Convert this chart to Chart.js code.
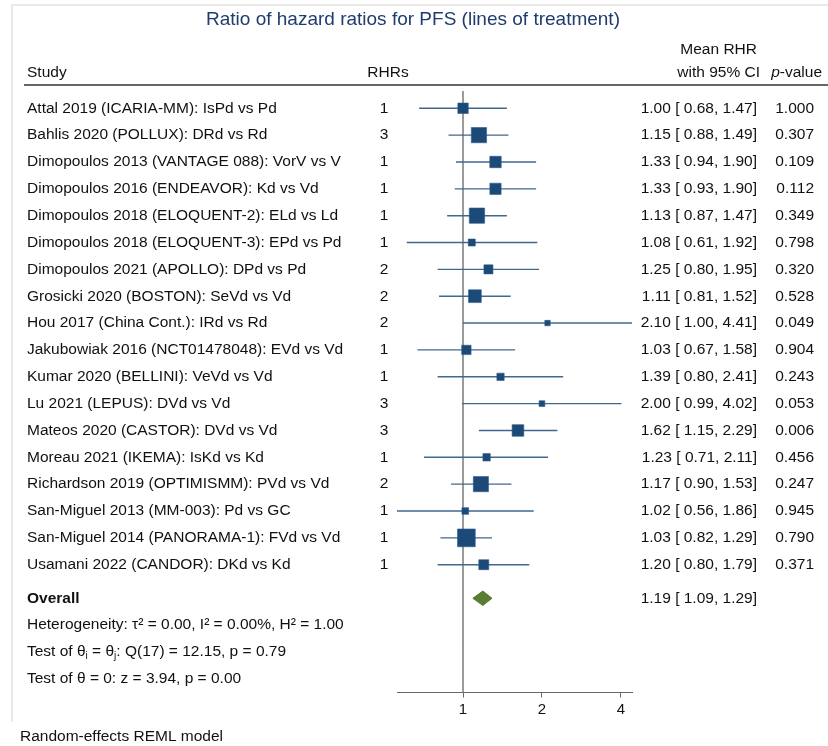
<!DOCTYPE html>
<html>
<head>
<meta charset="utf-8">
<script src="https://cdn.jsdelivr.net/npm/chart.js@4.4.1/dist/chart.umd.min.js"></script>
<style>
  html, body { margin: 0; padding: 0; background: #fff; }
  canvas { display: block; }
</style>
</head>
<body>
<canvas id="forestChart" width="828" height="746"></canvas>
<script>
const studies = [
  'Attal 2019 (ICARIA-MM): IsPd vs Pd',
  'Bahlis 2020 (POLLUX): DRd vs Rd',
  'Dimopoulos 2013 (VANTAGE 088): VorV vs V',
  'Dimopoulos 2016 (ENDEAVOR): Kd vs Vd',
  'Dimopoulos 2018 (ELOQUENT-2): ELd vs Ld',
  'Dimopoulos 2018 (ELOQUENT-3): EPd vs Pd',
  'Dimopoulos 2021 (APOLLO): DPd vs Pd',
  'Grosicki 2020 (BOSTON): SeVd vs Vd',
  'Hou 2017 (China Cont.): IRd vs Rd',
  'Jakubowiak 2016 (NCT01478048): EVd vs Vd',
  'Kumar 2020 (BELLINI): VeVd vs Vd',
  'Lu 2021 (LEPUS): DVd vs Vd',
  'Mateos 2020 (CASTOR): DVd vs Vd',
  'Moreau 2021 (IKEMA): IsKd vs Kd',
  'Richardson 2019 (OPTIMISMM): PVd vs Vd',
  'San-Miguel 2013 (MM-003): Pd vs GC',
  'San-Miguel 2014 (PANORAMA-1): FVd vs Vd',
  'Usamani 2022 (CANDOR): DKd vs Kd'
];
const rhrCounts = [1, 3, 1, 1, 1, 1, 2, 2, 2, 1, 1, 3, 3, 1, 2, 1, 1, 1];
const meanRHR  = [1.00, 1.15, 1.33, 1.33, 1.13, 1.08, 1.25, 1.11, 2.10, 1.03, 1.39, 2.00, 1.62, 1.23, 1.17, 1.02, 1.03, 1.20];
const lowerCI  = [0.68, 0.88, 0.94, 0.93, 0.87, 0.61, 0.80, 0.81, 1.00, 0.67, 0.80, 0.99, 1.15, 0.71, 0.90, 0.56, 0.82, 0.80];
const upperCI  = [1.47, 1.49, 1.90, 1.90, 1.47, 1.92, 1.95, 1.52, 4.41, 1.58, 2.41, 4.02, 2.29, 2.11, 1.53, 1.86, 1.29, 1.79];
const pValues  = ['1.000', '0.307', '0.109', '0.112', '0.349', '0.798', '0.320', '0.528', '0.049',
                  '0.904', '0.243', '0.053', '0.006', '0.456', '0.247', '0.945', '0.790', '0.371'];
const overall = [1.19, 1.09, 1.29]; // mean, lower, upper
const axisTicks = [1, 2, 4];

const FONT = "'Liberation Sans', Arial, Helvetica, sans-serif";
const bodyFont = '15.5px ' + FONT;
const BOX = '#1c4a78';
const LINE = '#41698f';

// inverse-variance weight from the CI, box side ~ sqrt(weight)
const boxSide = i => {
  const se = (Math.log(upperCI[i]) - Math.log(lowerCI[i])) / 3.92;
  return 2.05 / se;
};

const OVERALL_ROW = studies.length + 0.25;
const yMin = -0.644, yMax = 21.76;

const datasets = [];
datasets.push({
  type: 'scatter',
  data: meanRHR.map((m, i) => ({ x: m, y: i })),
  pointStyle: 'rect',
  pointRadius: meanRHR.map((m, i) => boxSide(i) / 1.4142),
  backgroundColor: BOX,
  borderColor: '#2d5a86',
  borderWidth: 0.6,
  order: 1
});
datasets.push({
  type: 'line',
  data: [
    { x: overall[1], y: OVERALL_ROW },
    { x: overall[0], y: OVERALL_ROW - 0.27 },
    { x: overall[2], y: OVERALL_ROW },
    { x: overall[0], y: OVERALL_ROW + 0.27 },
    { x: overall[1], y: OVERALL_ROW }
  ],
  borderColor: '#5b7c31',
  backgroundColor: '#5b7c31',
  borderWidth: 1,
  fill: 'shape',
  pointRadius: 0,
  tension: 0,
  order: 1
});
studies.forEach((s, i) => {
  datasets.push({
    type: 'line',
    data: [{ x: lowerCI[i], y: i }, { x: upperCI[i], y: i }],
    borderColor: LINE,
    borderWidth: 1.4,
    pointRadius: 0,
    order: 2
  });
});
datasets.push({
  type: 'line',
  data: [{ x: 1, y: yMin }, { x: 1, y: yMax }],
  borderColor: '#8c8c8c',
  borderWidth: 1,
  pointRadius: 0,
  order: 3
});

function drawRich(ctx, parts, x, y) {
  parts.forEach(([txt, kind]) => {
    ctx.font = kind === 'sub' ? '10px ' + FONT : bodyFont;
    ctx.fillText(txt, x, kind === 'sub' ? y + 4 : y);
    x += ctx.measureText(txt).width;
  });
}

const textPlugin = {
  id: 'forestText',
  afterDraw(chart) {
    const ctx = chart.ctx;
    const ys = chart.scales.y;
    const col = { study: 27, rhr: 384, ciRight: 757, pRight: 814 };
    ctx.save();

    // frame
    ctx.strokeStyle = '#e2e2e2';
    ctx.lineWidth = 1.5;
    ctx.beginPath();
    ctx.moveTo(12, 722); ctx.lineTo(12, 5); ctx.lineTo(828, 5);
    ctx.stroke();

    ctx.textBaseline = 'middle';
    ctx.fillStyle = '#1f3c6e';
    ctx.font = '19px ' + FONT;
    ctx.textAlign = 'center';
    ctx.fillText('Ratio of hazard ratios for PFS (lines of treatment)', 413, 20);

    ctx.fillStyle = '#111';
    ctx.font = bodyFont;
    ctx.textAlign = 'left';
    ctx.fillText('Study', col.study, 73);
    ctx.textAlign = 'center';
    ctx.fillText('RHRs', col.rhr + 4, 73);
    const wCI = ctx.measureText('with 95% CI').width;
    ctx.fillText('Mean RHR', col.ciRight + 3 - wCI / 2, 50);
    ctx.textAlign = 'right';
    ctx.fillText('with 95% CI', col.ciRight + 3, 73);
    const wVal = ctx.measureText('-value').width;
    ctx.fillText('-value', col.pRight + 8, 73);
    ctx.font = 'italic 15.5px ' + FONT;
    ctx.fillText('p', col.pRight + 8 - wVal, 73);

    ctx.strokeStyle = '#333';
    ctx.lineWidth = 1.3;
    ctx.beginPath();
    ctx.moveTo(24, 85); ctx.lineTo(828, 85);
    ctx.stroke();

    ctx.font = bodyFont;
    studies.forEach((s, i) => {
      const y = ys.getPixelForValue(i);
      ctx.textAlign = 'left';
      ctx.fillText(s, col.study, y);
      ctx.textAlign = 'center';
      ctx.fillText(String(rhrCounts[i]), col.rhr, y);
      ctx.textAlign = 'right';
      ctx.fillText(meanRHR[i].toFixed(2) + ' [ ' + lowerCI[i].toFixed(2) + ', ' + upperCI[i].toFixed(2) + ']', col.ciRight, y);
      ctx.fillText(pValues[i], col.pRight, y);
    });

    const yo = ys.getPixelForValue(OVERALL_ROW);
    ctx.textAlign = 'left';
    ctx.font = 'bold 15.5px ' + FONT;
    ctx.fillText('Overall', col.study, yo);
    ctx.font = bodyFont;
    ctx.textAlign = 'right';
    ctx.fillText(overall[0].toFixed(2) + ' [ ' + overall[1].toFixed(2) + ', ' + overall[2].toFixed(2) + ']', col.ciRight, yo);

    ctx.textAlign = 'left';
    ctx.fillText('Heterogeneity: \u03c4\u00b2 = 0.00, I\u00b2 = 0.00%, H\u00b2 = 1.00', col.study, ys.getPixelForValue(OVERALL_ROW + 1));
    drawRich(ctx, [['Test of \u03b8'], ['i', 'sub'], [' = \u03b8'], ['j', 'sub'], [': Q(17) = 12.15, p = 0.79']],
      col.study, ys.getPixelForValue(OVERALL_ROW + 2));
    ctx.font = bodyFont;
    ctx.fillText('Test of \u03b8 = 0: z = 3.94, p = 0.00', col.study, ys.getPixelForValue(OVERALL_ROW + 3));

    ctx.fillText('Random-effects REML model', 20, 737);
    ctx.restore();
  }
};

const ctx = document.getElementById('forestChart').getContext('2d');
new Chart(ctx, {
  type: 'scatter',
  data: { datasets: datasets },
  options: {
    responsive: false,
    animation: false,
    layout: { padding: { left: 397, right: 196, top: 91, bottom: 27.5 } },
    plugins: { legend: { display: false }, tooltip: { enabled: false }, title: { display: false } },
    scales: {
      x: {
        type: 'logarithmic',
        min: Math.min(...lowerCI),
        max: Math.max(...upperCI),
        afterBuildTicks: s => { s.ticks = axisTicks.map(v => ({ value: v })); },
        afterFit: s => { s.height = 26; },
        grid: { drawOnChartArea: false, drawTicks: true, tickLength: 5, color: '#666' },
        border: { color: '#666', width: 1 },
        ticks: {
          autoSkip: false, maxRotation: 0, padding: 3, color: '#111',
          font: { family: FONT, size: 15 },
          callback: v => String(v)
        }
      },
      y: { type: 'linear', min: yMin, max: yMax, reverse: true, display: false }
    }
  },
  plugins: [textPlugin]
});
</script>
</body>
</html>
